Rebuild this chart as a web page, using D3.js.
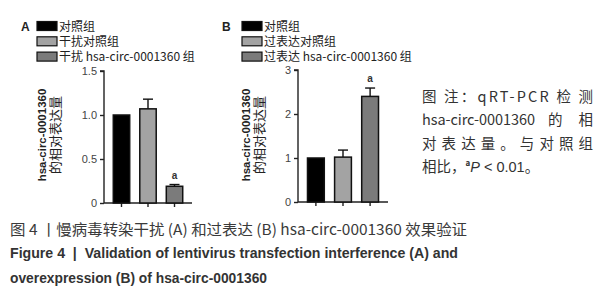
<!DOCTYPE html>
<html>
<head>
<meta charset="utf-8">
<script src="https://cdn.jsdelivr.net/npm/d3@7"></script>
<style>
  body { margin: 0; background: #fff; }
  svg { display: block; }
</style>
</head>
<body>
<div id="chart"></div>
<script>
const width = 613
const height = 300

// panel A: knockdown
const groupsA = ["对照组", "干扰对照组", "干扰 hsa-circ-0001360 组"]
const meansA = [1.0, 1.07, 0.19]
const errorsA = [0, 0.11, 0.02]
const marksA = ["", "", "a"]
const ticksA = [0, 0.5, 1.0, 1.5]

// panel B: overexpression
const groupsB = ["对照组", "过表达对照组", "过表达 hsa-circ-0001360 组"]
const meansB = [1.0, 1.02, 2.4]
const errorsB = [0, 0.16, 0.19]
const marksB = ["", "", "a"]
const ticksB = [0, 1, 2, 3]

const barColors = ["#000000", "#a3a3a3", "#7b7b7b"]

const yLabel = ["hsa-circ-0001360", "的相对表达量"]
const note = ["图 注：qRT-PCR 检 测", "hsa-circ-0001360 的 相", "对表达量。与对照组"]
const caption = [
  "图 4 丨慢病毒转染干扰 (A) 和过表达 (B) hsa-circ-0001360 效果验证",
  "Figure 4  |  Validation of lentivirus transfection interference (A) and",
  "overexpression (B) of hsa-circ-0001360"
]

const cjk = "'Noto Sans CJK SC', 'Noto Sans', sans-serif"
const latin = "'Liberation Sans', Arial, sans-serif"
const narrow = "'Liberation Sans Narrow', 'Liberation Sans', Arial, sans-serif"

const svg = d3.select("#chart")
  .append("svg")
  .attr("width", width)
  .attr("height", height)

function drawPanel(p) {
  const g = svg.append("g")

  const x = d3.scaleBand()
    .domain(p.groups)
    .range([p.left, p.right])
    .paddingInner(0.38)
    .paddingOuter(0.35)

  const y = d3.scaleLinear()
    .domain([0, d3.max(p.ticks)])
    .range([p.bottom, p.top])

  // panel letter
  g.append("text")
    .attr("x", p.letterX).attr("y", 31)
    .attr("font-family", latin).attr("font-weight", "bold")
    .attr("font-size", 12).attr("fill", "#222")
    .text(p.letter)

  // legend
  const leg = g.selectAll("g.leg")
    .data(p.groups)
    .join("g")
    .attr("class", "leg")
    .attr("transform", (d, i) => `translate(${p.legX},${26 + i * 15.3})`)

  leg.append("rect")
    .attr("x", 0).attr("y", -4.5)
    .attr("width", 20).attr("height", 9)
    .attr("fill", (d, i) => barColors[i])
    .attr("stroke", "#111").attr("stroke-width", 1.2)

  leg.append("text")
    .attr("x", 22).attr("y", 4.5)
    .attr("font-family", cjk).attr("font-size", 12)
    .attr("fill", "#222")
    .text(d => d)

  // axes
  const yAxis = d3.axisLeft(y)
    .tickValues(p.ticks)
    .tickSize(4)
    .tickPadding(3)
    .tickFormat(p.fmt)

  g.append("g")
    .attr("transform", `translate(${p.left},0)`)
    .call(yAxis)
    .call(a => a.selectAll("path, line").attr("stroke", "#222").attr("stroke-width", 1.4))
    .call(a => a.select(".domain").attr("d", `M-4,${y(d3.max(p.ticks))}H0V${p.bottom}`))
    .call(a => a.selectAll("text").attr("font-family", latin).attr("font-size", 11).attr("fill", "#444"))

  g.append("g")
    .attr("transform", `translate(0,${p.bottom})`)
    .call(d3.axisBottom(x).tickSize(4).tickFormat(""))
    .call(a => a.selectAll("path, line").attr("stroke", "#222").attr("stroke-width", 1.4))
    .call(a => a.select(".domain").attr("d", `M${p.left},0H${p.right}`))

  // bars
  g.selectAll("rect.bar")
    .data(p.means)
    .join("rect")
    .attr("class", "bar")
    .attr("x", (d, i) => x(p.groups[i]))
    .attr("width", x.bandwidth())
    .attr("y", d => y(d))
    .attr("height", d => y(0) - y(d))
    .attr("fill", (d, i) => barColors[i])
    .attr("stroke", "#111").attr("stroke-width", 1.5)

  // error bars (upper only)
  const cx = i => x(p.groups[i]) + x.bandwidth() / 2
  const err = g.selectAll("g.err")
    .data(p.means.map((m, i) => ({ m, e: p.errors[i], i })).filter(d => d.e > 0))
    .join("g")
    .attr("class", "err")
    .attr("stroke", "#111").attr("stroke-width", 1.4)

  err.append("line")
    .attr("x1", d => cx(d.i)).attr("x2", d => cx(d.i))
    .attr("y1", d => y(d.m)).attr("y2", d => y(d.m + d.e))
  err.append("line")
    .attr("x1", d => cx(d.i) - 5).attr("x2", d => cx(d.i) + 5)
    .attr("y1", d => y(d.m + d.e)).attr("y2", d => y(d.m + d.e))

  // significance marks
  g.selectAll("text.sig")
    .data(p.marks)
    .join("text")
    .attr("class", "sig")
    .attr("x", (d, i) => cx(i))
    .attr("y", (d, i) => y(p.means[i] + p.errors[i]) - 6)
    .attr("text-anchor", "middle")
    .attr("font-family", latin).attr("font-weight", "bold")
    .attr("font-size", 10).attr("fill", "#333")
    .text(d => d)

  // y label, rotated, two lines
  const yl = g.append("text")
    .attr("transform", `translate(${p.labelX},135) rotate(-90)`)
    .attr("text-anchor", "middle")
    .attr("fill", "#222")
  yl.append("tspan")
    .attr("x", 0).attr("y", 0)
    .attr("font-family", latin).attr("font-weight", "bold").attr("font-size", 11.5)
    .text(yLabel[0])
  yl.append("tspan")
    .attr("x", 0).attr("y", 14)
    .attr("font-family", cjk).attr("font-size", 13)
    .text(yLabel[1])
}

drawPanel({
  letter: "A", letterX: 21, legX: 37, labelX: 46,
  groups: groupsA, means: meansA, errors: errorsA, marks: marksA, ticks: ticksA,
  left: 104, right: 192, top: 71, bottom: 203,
  fmt: d => d === 0 ? "0" : d3.format(".1f")(d)
})

drawPanel({
  letter: "B", letterX: 222, legX: 242, labelX: 250,
  groups: groupsB, means: meansB, errors: errorsB, marks: marksB, ticks: ticksB,
  left: 298, right: 388, top: 70, bottom: 202,
  fmt: d3.format("d")
})

// note on the right
const noteG = svg.append("g")
  .attr("font-family", cjk).attr("font-size", 14.5).attr("fill", "#333")

noteG.selectAll("text.note")
  .data([note[0], note[2]])
  .join("text")
  .attr("class", "note")
  .attr("x", 422)
  .attr("y", (d, i) => 102 + i * 2 * 23.3)
  .attr("textLength", 171)
  .attr("lengthAdjust", "spacing")
  .text(d => d)

// second line: words spread across the same width
const words = note[1].split(" ")
const line2 = noteG.append("text").attr("y", 102 + 23.3)
line2.append("tspan").attr("x", 422).attr("textLength", 113).attr("lengthAdjust", "spacing").text(words[0])
line2.append("tspan").attr("x", 548).text(words[1])
line2.append("tspan").attr("x", 593 - 14.5).text(words[2])

const last = noteG.append("text").attr("x", 422).attr("y", 172)
last.append("tspan").text("相比，")
last.append("tspan").attr("font-size", 8).attr("dy", -6).attr("font-weight", "bold").text("a")
last.append("tspan").attr("dy", 6).attr("font-style", "italic").attr("font-family", latin).text("P")
last.append("tspan").attr("font-family", latin).text(" < 0.01")
last.append("tspan").text("。")

// caption
svg.append("text")
  .attr("x", 10).attr("y", 235)
  .attr("font-family", cjk).attr("font-size", 15).attr("fill", "#3a3a3a")
  .attr("textLength", 457).attr("lengthAdjust", "spacingAndGlyphs")
  .text(caption[0])

svg.append("text")
  .attr("x", 10).attr("y", 258)
  .attr("font-family", narrow).attr("font-weight", "bold")
  .attr("font-size", 15).attr("fill", "#333")
  .attr("textLength", 448).attr("lengthAdjust", "spacingAndGlyphs")
  .attr("xml:space", "preserve")
  .text(caption[1])

svg.append("text")
  .attr("x", 10).attr("y", 283)
  .attr("font-family", narrow).attr("font-weight", "bold")
  .attr("font-size", 15).attr("fill", "#333")
  .attr("textLength", 257).attr("lengthAdjust", "spacingAndGlyphs")
  .text(caption[2])
</script>
</body>
</html>
